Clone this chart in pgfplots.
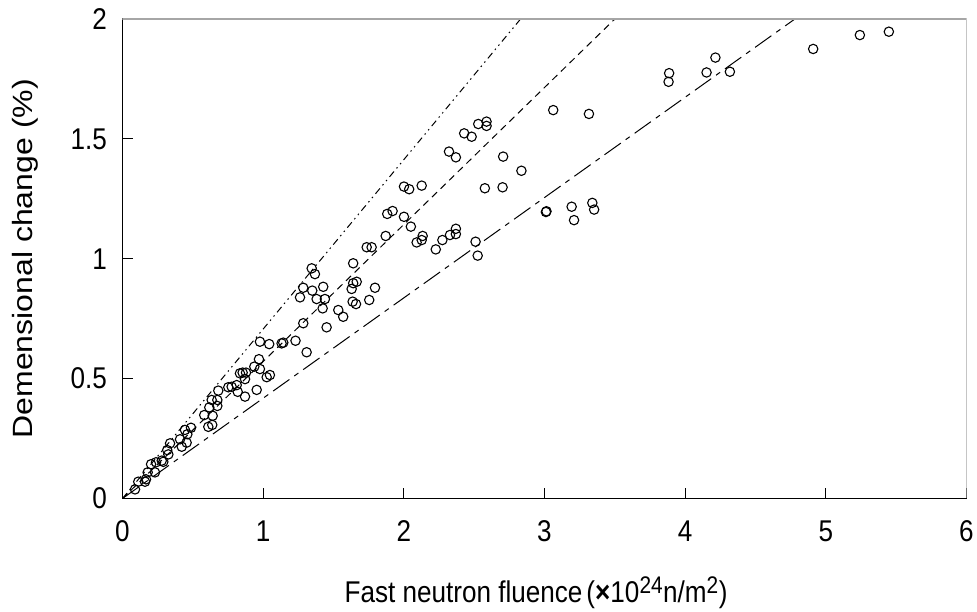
\documentclass[border=0pt]{standalone}
\usepackage{pgfplots}
\pgfplotsset{compat=1.18}
\usepackage{pgfplotstable}
\usepackage{fontspec}
\setmainfont{Liberation Sans}[FakeStretch=0.87]
\newfontfamily\plainsans{Liberation Sans}
\pgfplotstableread{
x y
0.089 0.038
0.112 0.070
0.160 0.070
0.167 0.080
0.179 0.109
0.231 0.109
0.203 0.143
0.238 0.151
0.279 0.158
0.290 0.153
0.326 0.184
0.318 0.202
0.338 0.230
0.421 0.216
0.409 0.247
0.444 0.286
0.461 0.268
0.456 0.233
0.487 0.295
0.581 0.348
0.610 0.299
0.638 0.307
0.617 0.380
0.634 0.411
0.674 0.411
0.681 0.450
0.641 0.345
0.674 0.386
0.752 0.464
0.776 0.466
0.812 0.473
0.819 0.445
0.871 0.425
0.835 0.522
0.854 0.525
0.878 0.525
0.871 0.498
0.954 0.453
0.937 0.550
0.970 0.581
0.977 0.540
1.025 0.506
1.048 0.515
0.977 0.654
1.043 0.644
1.131 0.647
1.143 0.650
1.230 0.658
1.285 0.731
1.309 0.610
1.451 0.714
1.534 0.786
1.569 0.758
1.423 0.793
1.439 0.832
1.380 0.832
1.262 0.839
1.285 0.879
1.349 0.867
1.427 0.883
1.345 0.960
1.368 0.936
1.640 0.981
1.665 0.904
1.640 0.898
1.629 0.874
1.795 0.879
1.636 0.821
1.660 0.811
1.754 0.828
1.736 1.048
1.771 1.048
1.871 1.095
2.050 1.134
2.091 1.068
2.127 1.078
2.134 1.095
2.227 1.039
2.274 1.078
2.328 1.099
2.370 1.103
2.370 1.125
2.510 1.071
2.525 1.013
1.882 1.187
1.920 1.199
2.001 1.175
2.001 1.301
2.038 1.290
2.127 1.305
2.321 1.447
2.370 1.423
2.429 1.523
2.482 1.509
2.529 1.562
2.588 1.572
2.588 1.554
2.576 1.294
2.702 1.298
2.706 1.426
2.836 1.367
3.062 1.620
3.316 1.604
3.014 1.198
3.010 1.195
3.193 1.217
3.210 1.161
3.340 1.233
3.353 1.205
3.886 1.774
3.882 1.738
4.152 1.777
4.318 1.780
4.215 1.839
4.910 1.875
5.242 1.933
5.448 1.947
}\pts
\begin{document}
\fontsize{30}{34}\selectfont
\begin{tikzpicture}
\begin{axis}[
 scale only axis, width=844pt, height=479.5pt,
 xmin=0, xmax=6, ymin=0, ymax=2,
 axis x line*=bottom, axis y line*=left,
 xtick={0,1,2,3,4,5,6}, ytick={0,0.5,1,1.5,2},
 tick align=inside, major tick length=10pt,
 tick style={black, line width=1pt},
 axis line style={black, line width=1.4pt, -},
 /pgf/number format/assume math mode=true,
 ticklabel style={font=\fontsize{30}{34}\selectfont},
 xticklabel style={yshift=-12pt},
 yticklabel style={xshift=-5.5pt},
 xlabel={Fast neutron fluence\hspace{4pt}({\fontseries{b}\selectfont ×}10\textsuperscript{\fontsize{24}{26}\selectfont 24}n/m\textsuperscript{\fontsize{24}{26}\selectfont 2})},
 ylabel={\scalebox{1}[0.87]{\plainsans Demensional change (\%)}},
 every axis x label/.style={at={(rel axis cs:0.49,-0.197)}, anchor=center, font=\fontsize{30}{34}\selectfont},
 every axis y label/.style={at={(rel axis cs:-0.1155,0.5)}, anchor=center, rotate=90, font=\fontsize{32}{36}\selectfont},
]
\addplot[black, line width=1pt, dash pattern=on 7pt off 4pt on 1.5pt off 4pt on 1.5pt off 4pt] coordinates {(0,0) (2.83,2)};
\addplot[black, line width=1pt, dash pattern=on 7pt off 5pt] coordinates {(0,0) (3.5,2)};
\addplot[black, line width=1pt, dash pattern=on 20pt off 6pt on 5pt off 6pt] coordinates {(0,0) (4.78,2)};
\addplot[only marks, mark=o, mark size=4.7pt, mark options={line width=1.1pt, black}] table[x=x, y=y] {\pts};
\draw[gray!70, line width=1.4pt] (rel axis cs:0,1) -- (rel axis cs:1,1) -- (rel axis cs:1,0);
\end{axis}
\pgfresetboundingbox
\path ([shift={(-122.5pt,-113.5pt)}]current axis.south west) rectangle ([shift={(10.5pt,19pt)}]current axis.north east);
\end{tikzpicture}
\end{document}
